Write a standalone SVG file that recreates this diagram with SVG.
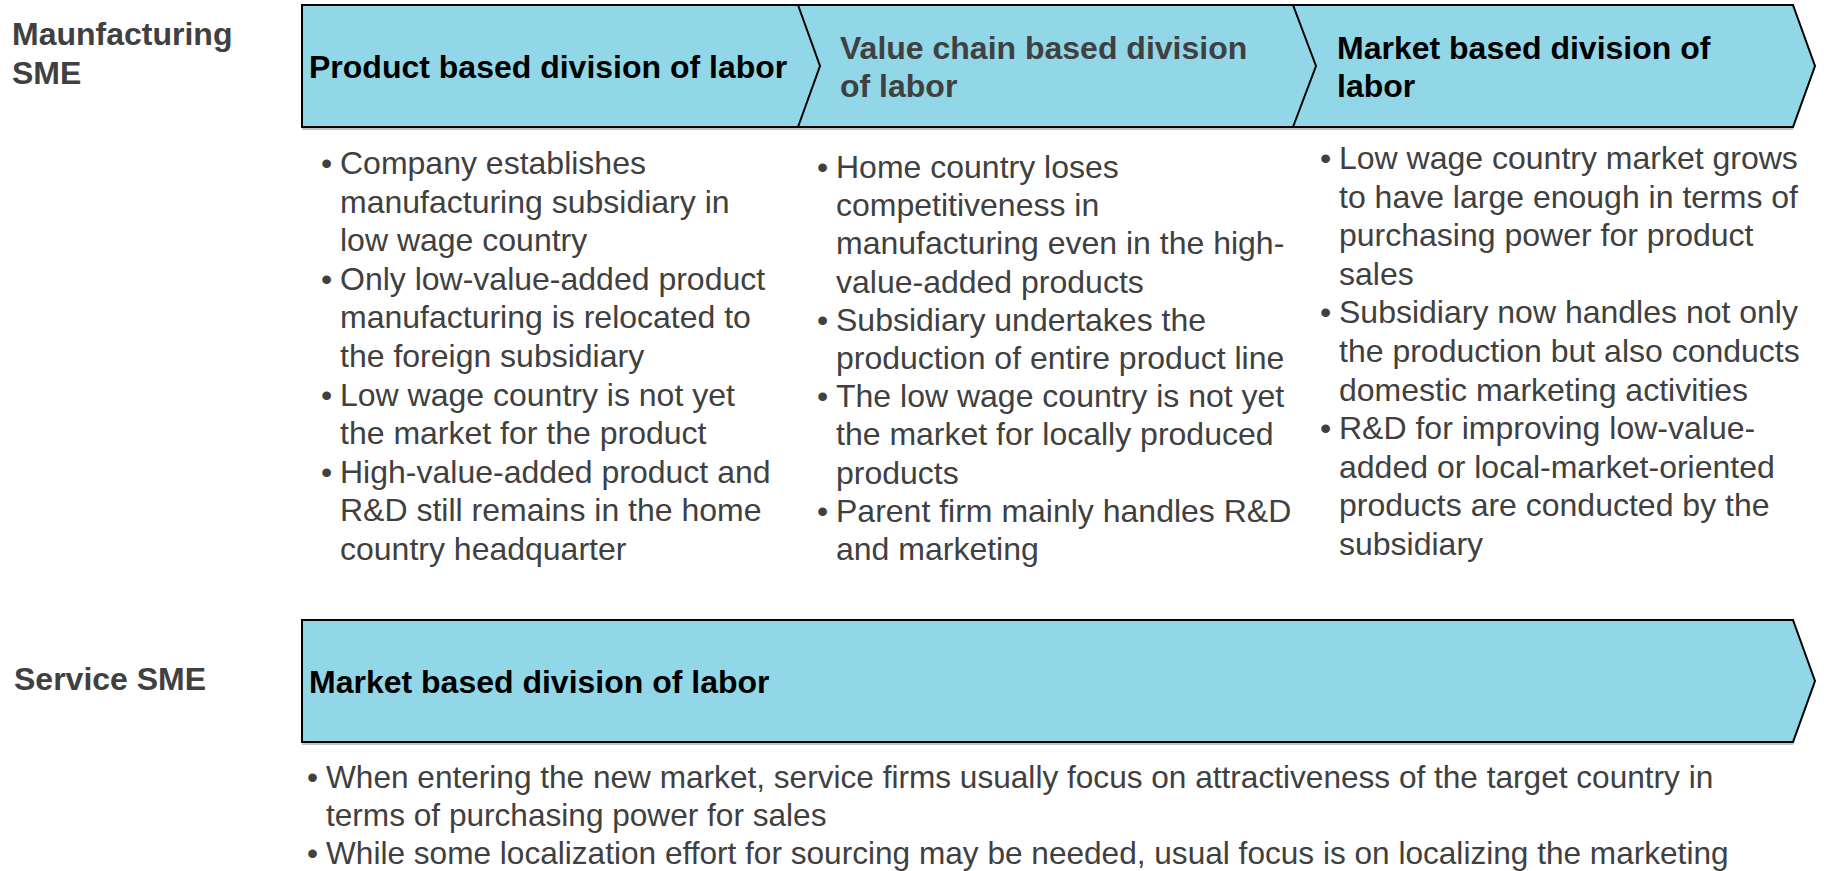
<svg xmlns="http://www.w3.org/2000/svg" width="1828" height="871" viewBox="0 0 1828 871">
<style>
.lbl{font-family:"Liberation Sans",Arial,sans-serif;font-size:32px;font-weight:bold;fill:#404040}
.hd{font-family:"Liberation Sans",Arial,sans-serif;font-size:32px;font-weight:bold;fill:#000}
.hdg{fill:#404040}
.bl{font-family:"Liberation Sans",Arial,sans-serif;font-size:32px;fill:#404040}
.bls{font-size:31.6px}
.band{fill:#91D7E7;stroke:#000;stroke-width:2;stroke-linejoin:miter}
.shadow{fill:#9a9a9a;opacity:0.6}
.div{fill:none;stroke:#000;stroke-width:2}
</style>
<rect width="1828" height="871" fill="#fff"/>

<g id="label-manufacturing">
<text class="lbl" x="12" y="45">Maunfacturing</text>
<text class="lbl" x="12" y="84">SME</text>
</g>
<g id="label-service">
<text class="lbl" x="14" y="690">Service SME</text>
</g>

<g id="band-top">
<polygon class="shadow" points="302,8 1793,8 1815,69 1793,130 302,130"/>
<polygon class="band" points="302,5 1793,5 1815,66 1793,127 302,127"/>
</g>

<g id="connectors">
<polyline class="div" points="798,5 820,66 798,127"/>
<polyline class="div" points="1293,5 1316,66 1293,127"/>
</g>

<g id="stage-product">
<text class="hd" x="309" y="78">Product based division of labor</text>
</g>
<g id="stage-valuechain">
<text class="hd hdg" x="840" y="59">Value chain based division</text>
<text class="hd hdg" x="840" y="97">of labor</text>
</g>
<g id="stage-market">
<text class="hd" x="1337" y="59">Market based division of</text>
<text class="hd" x="1337" y="97">labor</text>
</g>

<g id="bullets-product" class="bl">
<text x="321" y="174">•</text>
<text x="340" y="174">Company establishes</text>
<text x="340" y="212.6">manufacturing subsidiary in</text>
<text x="340" y="251.2">low wage country</text>
<text x="321" y="289.8">•</text>
<text x="340" y="289.8">Only low-value-added product</text>
<text x="340" y="328.4">manufacturing is relocated to</text>
<text x="340" y="367">the foreign subsidiary</text>
<text x="321" y="405.6">•</text>
<text x="340" y="405.6">Low wage country is not yet</text>
<text x="340" y="444.2">the market for the product</text>
<text x="321" y="482.8">•</text>
<text x="340" y="482.8">High-value-added product and</text>
<text x="340" y="521.4">R&amp;D still remains in the home</text>
<text x="340" y="560">country headquarter</text>
</g>

<g id="bullets-valuechain" class="bl">
<text x="817" y="178">•</text>
<text x="836" y="178">Home country loses</text>
<text x="836" y="216.2">competitiveness in</text>
<text x="836" y="254.4">manufacturing even in the high-</text>
<text x="836" y="292.6">value-added products</text>
<text x="817" y="330.8">•</text>
<text x="836" y="330.8">Subsidiary undertakes the</text>
<text x="836" y="369">production of entire product line</text>
<text x="817" y="407.2">•</text>
<text x="836" y="407.2">The low wage country is not yet</text>
<text x="836" y="445.4">the market for locally produced</text>
<text x="836" y="483.6">products</text>
<text x="817" y="521.8">•</text>
<text x="836" y="521.8">Parent firm mainly handles R&amp;D</text>
<text x="836" y="560">and marketing</text>
</g>

<g id="bullets-market" class="bl">
<text x="1320" y="169">•</text>
<text x="1339" y="169">Low wage country market grows</text>
<text x="1339" y="207.6">to have large enough in terms of</text>
<text x="1339" y="246.2">purchasing power for product</text>
<text x="1339" y="284.8">sales</text>
<text x="1320" y="323.4">•</text>
<text x="1339" y="323.4">Subsidiary now handles not only</text>
<text x="1339" y="362">the production but also conducts</text>
<text x="1339" y="400.6">domestic marketing activities</text>
<text x="1320" y="439.2">•</text>
<text x="1339" y="439.2">R&amp;D for improving low-value-</text>
<text x="1339" y="477.8">added or local-market-oriented</text>
<text x="1339" y="516.4">products are conducted by the</text>
<text x="1339" y="555">subsidiary</text>
</g>

<g id="band-service">
<polygon class="shadow" points="302,623 1793,623 1815,684 1793,745 302,745"/>
<polygon class="band" points="302,620 1793,620 1815,681 1793,742 302,742"/>
<text class="hd" x="309" y="693">Market based division of labor</text>
</g>

<g id="bullets-service" class="bl bls">
<text x="307" y="788">•</text>
<text x="326" y="788">When entering the new market, service firms usually focus on attractiveness of the target country in</text>
<text x="326" y="826">terms of purchasing power for sales</text>
<text x="307" y="864">•</text>
<text x="326" y="864">While some localization effort for sourcing may be needed, usual focus is on localizing the marketing</text>
</g>
</svg>
